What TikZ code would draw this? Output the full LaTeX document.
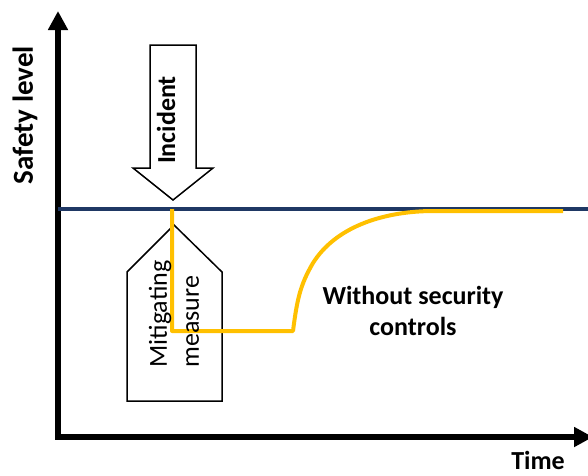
\documentclass[tikz,border=0pt]{standalone}
\usepackage{fontspec}
\setmainfont{Carlito}
\usetikzlibrary{arrows.meta}
\definecolor{navy}{RGB}{31,56,100}
\definecolor{amber}{RGB}{255,192,0}
\tikzset{
  axis/.style={line width=6pt,-{Triangle[length=19pt,width=19pt]}},
  lbl/.style={font=\fontsize{26}{31}\selectfont\bfseries,inner sep=0pt},
  shapebox/.style={draw=black,line width=1.5pt,fill=white,line join=miter},
  level/.style={draw=navy,line width=3.5pt},
  curve/.style={draw=amber,line width=4pt,line join=round}
}
\begin{document}
\begin{tikzpicture}[x=1pt,y=-1pt]
\useasboundingbox (0,0) rectangle (588,475);
% axes
\coordinate (origin) at (58,437);
\coordinate (ytop) at (58,11);
\coordinate (xstart) at (55,437);
\coordinate (xend) at (593,437);
\draw[axis] (origin) -- (ytop);
\draw[axis] (xstart) -- (xend);
% incident arrow
\draw[shapebox] (150,45) -- (196,45) -- (196,168) -- (213,168) -- (173,200) -- (133,168) -- (150,168) -- cycle;
% level line
\coordinate (lvlL) at (58,209);
\coordinate (lvlR) at (588,209);
\draw[level] (lvlL) -- (lvlR);
% mitigating measure shape
\draw[shapebox] (174,225) -- (222,272) -- (222,401) -- (127,401) -- (127,272) -- cycle;
% yellow curve
\coordinate (c0) at (172,209);
\coordinate (c1) at (172,331);
\coordinate (c2) at (293,331);
\coordinate (c3) at (313,263);
\coordinate (c4) at (430,211);
\coordinate (c5) at (563,211);
\draw[curve] (c0) -- (c1) -- (c2) .. controls (297,300) and (300,285) .. (c3) .. controls (335,228) and (380,212) .. (c4) -- (c5);
% labels
\node[lbl,font=\fontsize{29}{34}\selectfont\bfseries,rotate=90] (safety) at (25,115) {Safety level};
\node[lbl,rotate=90] (incident) at (166,120) {Incident};
\node[lbl,font=\fontsize{26}{32}\selectfont,rotate=90,align=left] (mitig) at (174,314) {Mitigating\\measure};
\node[lbl,align=center] (without) at (413,311) {Without security\\controls};
\node[lbl] (time) at (538,460) {Time};
\end{tikzpicture}
\end{document}
